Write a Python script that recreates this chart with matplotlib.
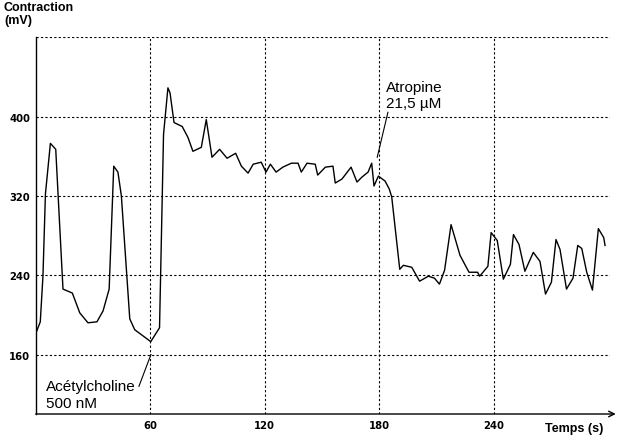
import matplotlib
matplotlib.use("Agg")
import matplotlib.pyplot as plt

temps = [0.2, 2.4, 3.8, 5.1, 7.7, 10.5, 14.3, 19.2, 23.1, 27.4, 32.1, 35.3, 38.5, 40.9, 43.1, 44.9,
         49.3, 51.9, 60.3, 64.9, 67.0, 69.3, 70.4, 72.5, 76.8, 79.8, 82.4, 86.8, 89.4, 92.4, 96.4,
         100.3, 104.8, 107.8, 111.3, 114.0, 118.2, 120.7, 123.0, 126.0, 129.5, 134.0, 137.5, 139.2,
         142.2, 146.5, 147.8, 151.8, 155.8, 157.0, 160.5, 165.3, 168.4, 171.0, 174.2, 176.1, 177.3,
         179.6, 183.1, 185.3, 186.6, 190.8, 192.7, 197.1, 201.2, 205.8, 209.0, 211.6, 214.3, 217.7,
         222.4, 227.1, 231.6, 232.7, 237.0, 238.7, 241.9, 245.1, 248.8, 250.4, 253.3, 256.4, 260.8,
         264.3, 267.2, 270.3, 272.7, 274.8, 278.2, 281.6, 284.1, 286.2, 288.8, 291.8, 294.9, 297.7,
         298.4]
contraction = [182, 193, 239, 322, 373, 367, 226, 222, 202, 192, 193, 204, 226, 350, 344, 320,
               196, 185, 173, 187, 382, 429, 424, 394, 390, 379, 365, 369, 397, 359, 367,
               358, 363, 350, 343, 352, 354, 344, 352, 344, 349, 353, 353, 344,
               353, 352, 341, 349, 350, 333, 337, 349, 334, 339, 344, 353, 330,
               340, 335, 327, 319, 246, 250, 248, 234, 239, 237, 231, 245, 291,
               260, 243, 243, 239, 249, 283, 275, 236, 251, 281, 271, 244, 263,
               254, 221, 233, 276, 266, 226, 237, 270, 267, 243, 225, 287, 278,
               270]

x_ticks = [60, 120, 180, 240]
y_ticks = [160, 240, 320, 400]
y_grid = [160, 240, 320, 400, 480]

fig = plt.figure(figsize=(6.17, 4.39), dpi=100)
ax = fig.add_axes([35.7 / 617, 24 / 439, (610 - 35.7) / 617, (415 - 38.3) / 439])
ax.set_xlim(0, 301)
ax.set_ylim(100, 480)

# grille pointillée
for y in y_grid:
    ax.axhline(y, color="black", lw=0.8, ls=(0, (2, 2)), zorder=1)
for x in x_ticks:
    ax.axvline(x, color="black", lw=0.8, ls=(0, (2, 2)), zorder=1)

ax.plot(temps, contraction, color="black", lw=1.0, zorder=3)

# axes
for s in ["top", "right", "bottom"]:
    ax.spines[s].set_visible(False)
ax.spines["left"].set_linewidth(1.0)
ax.annotate("", xy=(1.01, 0), xytext=(0, 0), xycoords="axes fraction",
            arrowprops=dict(arrowstyle="->", lw=1.0, color="black", shrinkA=0, shrinkB=0),
            annotation_clip=False)

ax.set_xticks(x_ticks)
ax.set_yticks(y_ticks)
ax.tick_params(length=0, labelsize=7.2, pad=4)
for lab in ax.get_xticklabels() + ax.get_yticklabels():
    lab.set_fontweight("bold")
    lab.set_family("DejaVu Sans")

fig.text(4 / 617, 1 - 2 / 439, "Contraction\n(mV)", ha="left", va="top",
         family="Liberation Sans", fontweight="bold", fontsize=9, linespacing=1.15)
fig.text(603 / 617, 1 - 435 / 439, "Temps (s)", ha="right", va="bottom",
         family="Liberation Sans", fontweight="bold", fontsize=9)

# annotations
ax.text(5.2, 104.5, "Acétylcholine\n500 nM", ha="left", va="bottom",
        family="Liberation Sans", fontsize=11)
ax.plot([54.1, 60.4], [127.9, 160], color="black", lw=0.8, zorder=3)
ax.text(183.6, 406.9, "Atropine\n21,5 µM", ha="left", va="bottom",
        family="Liberation Sans", fontsize=11)
ax.plot([184.6, 179], [404.3, 359], color="black", lw=0.8, zorder=3)

fig.savefig("out.png", dpi=100)
